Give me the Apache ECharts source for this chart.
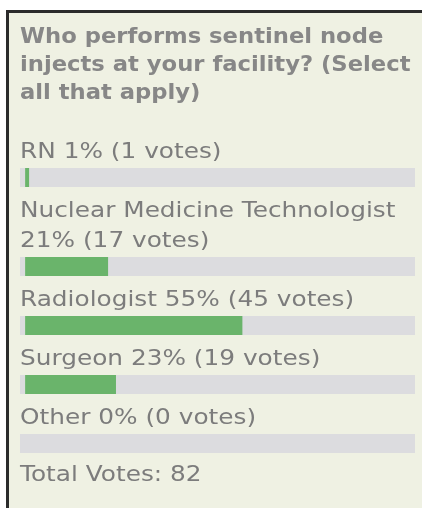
<!DOCTYPE html>
<html>
<head>
<meta charset="utf-8">
<script src="https://cdn.jsdelivr.net/npm/echarts@6/dist/echarts.min.js"></script>
<style>
  html, body { margin: 0; padding: 0; background: #fff; }
  #chart { width: 422px; height: 508px; }
</style>
</head>
<body>
<div id="chart"></div>
<script>
// poll data
const questionLines = ['Who performs sentinel node', 'injects at your facility? (Select', 'all that apply)']
const names = ['RN', 'Nuclear Medicine Technologist', 'Radiologist', 'Surgeon', 'Other']
const percents = [1, 21, 55, 23, 0]
const votes = [1, 17, 45, 19, 0]

const GREEN = '#6ab46b'
const TRACK = '#dcdcdf'
const TEXT = '#7c7c7c'
const FONT = '"DejaVu Sans", Verdana, sans-serif'
const STRETCH = 1.18 // the widget's font is spaced out wider than DejaVu

const BAR_H = 19
const FIRST_BAR = 168
const PITCH = 59
const LINE_H = 30

const chart = echarts.init(document.getElementById('chart'))

// label text for one row, long ones split onto two lines like the widget does
function rowLabel(i) {
  const tail = `${percents[i]}% (${votes[i]} votes)`
  return names[i].length > 20 ? `${names[i]}\n${tail}` : `${names[i]} ${tail}`
}

const barTops = []
let extra = 0
names.forEach((n, i) => {
  const lines = rowLabel(i).split('\n').length
  extra += (lines - 1) * LINE_H
  barTops.push(FIRST_BAR + PITCH * i + extra)
})

const total = votes.reduce((a, b) => a + b, 0)

const grids = names.map((n, i) => ({ left: 20, right: 7, top: barTops[i], height: BAR_H }))
const xAxes = names.map((n, i) => ({
  type: 'value', gridIndex: i, min: -1.3, max: 98.7, show: false
}))
const yAxes = names.map((n, i) => ({
  type: 'category', gridIndex: i, data: [n], show: false
}))
const series = names.map((n, i) => ({
  type: 'bar',
  xAxisIndex: i,
  yAxisIndex: i,
  data: [percents[i]],
  barWidth: BAR_H,
  showBackground: true,
  backgroundStyle: { color: TRACK },
  itemStyle: { color: GREEN },
  silent: true
}))

const texts = [
  {
    type: 'text', x: 20, y: 24, scaleX: 1.08,
    style: {
      text: questionLines.join('\n'), font: `bold 21px ${FONT}`, fill: '#878787',
      lineHeight: 28, textVerticalAlign: 'top', verticalAlign: 'top'
    }
  },
  ...names.map((n, i) => ({
    type: 'text', x: 20, y: barTops[i], scaleX: STRETCH,
    style: {
      text: rowLabel(i), font: `21px ${FONT}`, fill: TEXT,
      lineHeight: LINE_H, textVerticalAlign: 'bottom', verticalAlign: 'bottom'
    }
  })),
  {
    type: 'text', x: 20, y: 476, scaleX: STRETCH,
    style: {
      text: `Total Votes: ${total}`, font: `21px ${FONT}`, fill: TEXT,
      textVerticalAlign: 'middle', verticalAlign: 'middle'
    }
  }
]

chart.setOption({
  backgroundColor: '#fff',
  animation: false,
  graphic: [
    { type: 'rect', shape: { x: 6, y: 10, width: 416, height: 498 }, style: { fill: '#2b2b2b' }, z: -10 },
    { type: 'rect', shape: { x: 9, y: 13, width: 413, height: 495 }, style: { fill: '#eff1e3' }, z: -9 },
    ...texts
  ],
  grid: grids,
  xAxis: xAxes,
  yAxis: yAxes,
  series
})
</script>
</body>
</html>
